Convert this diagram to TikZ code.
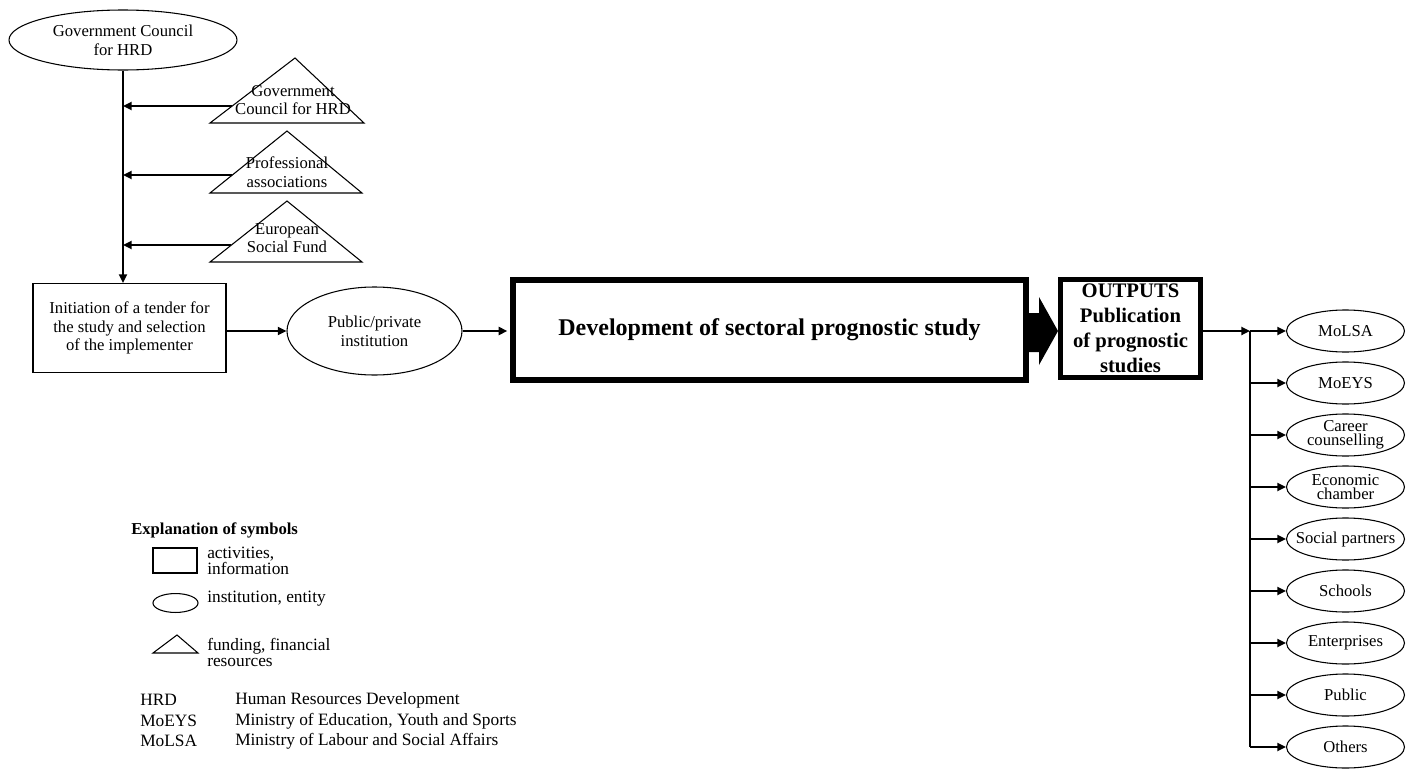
\documentclass[tikz,border=0pt]{standalone}
\usepackage{fontspec}
\setmainfont{Liberation Serif}
\usetikzlibrary{positioning, arrows.meta, shapes.geometric}

\begin{document}
\begin{tikzpicture}[x=0.75pt,y=-0.75pt,
  txt/.style={font=\fontsize{12.5}{14}\selectfont, align=center, inner sep=0pt},
  entity/.style={txt, draw, ellipse, line width=0.8pt},
  activity/.style={txt, draw, rectangle, line width=0.8pt},
  target/.style={entity, minimum width=88.5pt, minimum height=31.5pt, inner xsep=-7pt,
    font=\fontsize{12.5}{10.5}\selectfont},
  link/.style={line width=1.6pt, -{Triangle[length=6.5pt,width=6pt]}},
  fund/.style={line width=0.8pt, line join=miter},
  legtxt/.style={font=\fontsize{13}{12}\selectfont, align=left, inner sep=0pt, anchor=west}
]
\useasboundingbox (0,0) rectangle (1407,771);

% funding side
\node[entity, minimum width=171pt, minimum height=45pt] (council) at (123,40) {Government Council\\for HRD};
\node[activity, minimum width=144.75pt, minimum height=66.75pt] (tender) at (129.5,328) {Initiation of a tender for\\the study and selection\\of the implementer};
\draw[link] (council.south) -- (council.south |- tender.north);

\draw[fund] (210,123) -- (295,58) -- (364,123) -- cycle;
\draw[fund] (210,193) -- (287,131) -- (362,193) -- cycle;
\draw[fund] (210,262) -- (287,201) -- (362,262) -- cycle;
\node[txt] (gov) at (293,100) {Government\\Council for HRD};
\node[txt] (prof) at (287,172) {Professional\\associations};
\node[txt] (esf) at (287,238) {European\\Social Fund};
\coordinate (f1) at (232,106);
\coordinate (f2) at (232,175);
\coordinate (f3) at (231,245);
\draw[link] (f1) -- (f1 -| council.south);
\draw[link] (f2) -- (f2 -| council.south);
\draw[link] (f3) -- (f3 -| council.south);

% main line
\node[entity, minimum width=131.25pt, minimum height=66pt] (inst) at (374.5,331) {Public/private\\institution};
\draw[link] (tender.east |- inst) -- (inst.west);
\node[activity, line width=4.5pt, minimum width=384.75pt, minimum height=75pt,
  font=\bfseries\fontsize{18}{20}\selectfont] (dev) at (769.5,330) {Development of sectoral prognostic study};
\draw[link, shorten >=2pt] (inst.east) -- (dev.west |- inst.east);
\node[activity, line width=3.75pt, minimum width=105pt, minimum height=73.5pt,
  font=\bfseries\fontsize{15.5}{18.75}\selectfont] (pub) at (1130.5,328.5) {OUTPUTS\\Publication\\of prognostic\\studies};
\fill (1027,313) -- (1039,313) -- (1039,297) -- (1058,331) -- (1039,365) -- (1039,352) -- (1027,352) -- cycle;

% users of the outputs
\coordinate (split) at (1250,331);
\draw[link] (pub.east |- split) -- (split);
\foreach \tname/\ttext [count=\i from 0] in {molsa/MoLSA, moeys/MoEYS, career/{Career\\counselling},
    chamber/{Economic\\chamber}, partners/Social partners, schools/Schools,
    firms/Enterprises, public/Public, others/Others} {
  \node[target] (\tname) at (1345.5,331+52*\i) {\ttext};
  \draw[link] (split |- \tname) -- (\tname.west);
}
\draw[line width=1.6pt] (split) -- (split |- others);

% legend
\node[legtxt, font=\bfseries\fontsize{12.5}{14}\selectfont] (legend) at (131,530) {Explanation of symbols};
\draw[line width=0.8pt] (153,548) rectangle (197,573);
\node[legtxt] (lact) at (207,561) {activities,\\information};
\draw[line width=0.8pt] (175.5,603) ellipse (16.9pt and 7.1pt);
\node[legtxt] (lent) at (207,599) {institution, entity};
\draw[fund] (153,653) -- (177,635) -- (198,653) -- cycle;
\node[legtxt] (lfund) at (207,652) {funding, financial\\resources};
\node[legtxt] (ahrd) at (140,700) {HRD};
\node[legtxt] (amoeys) at (140,721) {MoEYS};
\node[legtxt] (amolsa) at (140,741) {MoLSA};
\node[legtxt] (dhrd) at (235,700) {Human Resources Development};
\node[legtxt] (dmoeys) at (235,721) {Ministry of Education, Youth and Sports};
\node[legtxt] (dmolsa) at (235,741) {Ministry of Labour and Social Affairs};
\end{tikzpicture}
\end{document}
